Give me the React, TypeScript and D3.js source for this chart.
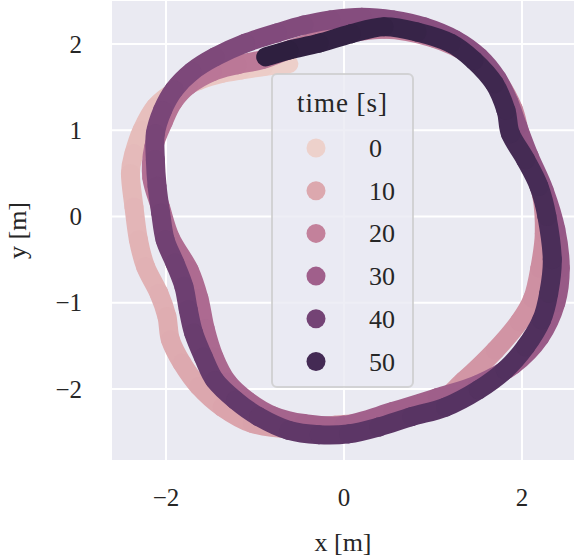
import React from "react";
import * as d3 from "d3";

// time [s] of each sampled position along the trajectory
const timeS = [
  0.0, 0.8, 1.6, 2.2, 2.8, 3.4, 4.0, 4.6, 5.2, 5.7, 6.4, 7.0, 7.5, 8.0, 8.5, 9.0, 9.5, 10.0, 10.6, 11.2,
  11.8, 12.4, 13.0, 13.6, 14.2, 14.8, 15.3, 15.8, 16.3, 16.8, 17.3, 17.8, 18.3, 18.8, 19.3, 19.8, 20.3, 20.8, 21.3, 21.8,
  22.0, 22.4, 22.8, 23.2, 23.6, 24.0, 24.4, 24.8, 25.2, 25.6, 26.0, 26.4, 26.8, 27.2, 27.6, 28.0, 28.4, 28.8, 29.2, 29.6,
  30.0, 30.4, 30.8, 31.2, 31.6, 32.0, 32.4, 32.8, 33.2, 33.6, 34.0, 34.4, 34.8, 35.2, 35.5, 35.8, 36.1, 36.4, 36.7, 37.0,
  37.3, 37.6, 37.9, 38.2, 38.5, 38.8, 39.2, 39.6, 40.0, 40.4, 40.8, 41.2, 41.6, 42.0, 42.4, 42.8, 43.2, 43.6, 44.0, 44.4,
  44.8, 45.2, 45.6, 46.0, 46.4, 46.8, 47.2, 47.6, 48.0, 48.4, 48.8, 49.2, 49.6, 50.0, 50.4, 50.9, 51.4, 51.9, 52.5, 53.1,
  53.7, 54.2, 54.6, 55.0,
];
const posX = [
  -0.62, -0.90, -1.15, -1.37, -1.63, -1.90, -2.12, -2.27, -2.36, -2.40, -2.36, -2.31, -2.23, -2.08, -1.99, -1.95, -1.82, -1.63, -1.37, -1.03,
  -0.60, -0.10, 0.45, 0.98, 1.35, 1.70, 1.97, 2.12, 2.20, 2.25, 2.22, 2.10, 1.98, 1.90, 1.72, 1.45, 1.00, 0.45, -0.15, -0.60,
  -0.92, -1.20, -1.48, -1.75, -1.92, -2.03, -2.14, -2.16, -2.06, -1.95, -1.74, -1.63, -1.56, -1.46, -1.31, -1.08, -0.80, -0.45, 0.00, 0.55,
  1.05, 1.50, 1.90, 2.20, 2.38, 2.43, 2.38, 2.25, 2.08, 1.95, 1.85, 1.72, 1.52, 1.25, 0.90, 0.55, 0.20, -0.15, -0.45, -0.75,
  -1.11, -1.45, -1.71, -1.91, -2.04, -2.12, -2.12, -2.10, -2.06, -2.01, -1.90, -1.80, -1.75, -1.69, -1.58, -1.45, -1.22, -0.96, -0.62, -0.28,
  0.05, 0.39, 0.76, 1.14, 1.51, 1.81, 2.04, 2.22, 2.30, 2.34, 2.28, 2.19, 2.04, 1.87, 1.82, 1.69, 1.46, 1.20, 0.82, 0.45,
  0.08, -0.28, -0.62, -0.88,
];
const posY = [
  1.77, 1.74, 1.70, 1.66, 1.58, 1.45, 1.27, 1.00, 0.73, 0.50, 0.11, -0.27, -0.58, -0.89, -1.16, -1.43, -1.70, -1.97, -2.21, -2.40,
  -2.46, -2.42, -2.36, -2.22, -1.90, -1.55, -1.22, -0.95, -0.60, -0.20, 0.25, 0.60, 0.95, 1.25, 1.58, 1.85, 2.07, 2.17, 2.08, 1.94,
  1.82, 1.76, 1.68, 1.52, 1.33, 1.10, 0.80, 0.45, 0.10, -0.25, -0.62, -0.95, -1.30, -1.63, -1.92, -2.14, -2.31, -2.40, -2.42, -2.26,
  -2.10, -1.95, -1.72, -1.40, -1.00, -0.60, -0.15, 0.30, 0.70, 1.05, 1.33, 1.60, 1.85, 2.05, 2.20, 2.28, 2.31, 2.28, 2.22, 2.13,
  2.01, 1.85, 1.68, 1.47, 1.23, 0.96, 0.66, 0.35, 0.04, -0.27, -0.54, -0.81, -1.08, -1.35, -1.63, -1.90, -2.13, -2.32, -2.48, -2.53,
  -2.52, -2.44, -2.32, -2.21, -2.01, -1.78, -1.51, -1.20, -0.89, -0.50, 0.00, 0.35, 0.66, 0.96, 1.23, 1.54, 1.81, 2.01, 2.14, 2.20,
  2.12, 2.01, 1.93, 1.85,
];

const legendTimes = [0, 10, 20, 30, 40, 50];
const xTicks = [-2, 0, 2];
const yTicks = [-2, -1, 0, 1, 2];

const W = 574;
const H = 559;
const FONT = "'Liberation Serif', 'Times New Roman', serif";

// seaborn default cubehelix (start=0, rot=.4, hue=.8, gamma=1)
function cubehelix(x: number): string {
  const a = (0.8 * x * (1 - x)) / 2;
  const phi = 2 * Math.PI * (0.4 * x);
  const c = Math.cos(phi);
  const s = Math.sin(phi);
  const clip = (v: number) => Math.max(0, Math.min(1, v)) * 255;
  const r = x + a * (-0.14861 * c + 1.78277 * s);
  const g = x + a * (-0.29227 * c - 0.90649 * s);
  const b = x + a * (1.97294 * c);
  return d3.rgb(clip(r), clip(g), clip(b)).formatHex();
}

const fmt = (v: number) => (v < 0 ? "\u2212" + Math.abs(v) : String(v));

export default function App() {
  const left = 112, right = 574, top = 1, bottom = 460;
  const xScale = d3.scaleLinear().domain([-2.607, 2.584]).range([left, right]);
  const yScale = d3.scaleLinear().domain([2.499, -2.823]).range([top, bottom]);
  const tMin = d3.min(timeS) as number;
  const tMax = d3.max(timeS) as number;
  const norm = d3.scaleLinear().domain([tMin, tMax]).range([0.85, 0.15]);
  const color = (t: number) => cubehelix(norm(t));

  const pts = timeS.map((t, i) => ({ t, x: xScale(posX[i]), y: yScale(posY[i]) }));
  const n = pts.length;
  const segs = [];
  for (let i = 0; i < n - 1; i++) {
    const p0 = pts[Math.max(0, i - 1)];
    const p1 = pts[i];
    const p2 = pts[i + 1];
    const p3 = pts[Math.min(n - 1, i + 2)];
    const c1x = p1.x + (p2.x - p0.x) / 6;
    const c1y = p1.y + (p2.y - p0.y) / 6;
    const c2x = p2.x - (p3.x - p1.x) / 6;
    const c2y = p2.y - (p3.y - p1.y) / 6;
    const path = d3.path();
    path.moveTo(p1.x, p1.y);
    path.bezierCurveTo(c1x, c1y, c2x, c2y, p2.x, p2.y);
    segs.push(
      <path
        key={i}
        d={path.toString()}
        fill="none"
        stroke={color((p1.t + p2.t) / 2)}
        strokeWidth={19}
        strokeLinecap="round"
      />
    );
  }

  const legX = 272, legY = 74, legW = 141, legH = 313;
  const rowY0 = 148, rowDy = 42.7;

  return (
    <svg width={W} height={H} style={{ position: "absolute", left: 0, top: 0 }} fontFamily={FONT}>
      <rect x={0} y={0} width={W} height={H} fill="#ffffff" />
      <rect x={left} y={top} width={right - left} height={bottom - top} fill="#eaeaf2" />
      {xTicks.map((v) => (
        <line key={"gx" + v} x1={xScale(v)} x2={xScale(v)} y1={top} y2={bottom} stroke="#ffffff" strokeWidth={2} />
      ))}
      {yTicks.map((v) => (
        <line key={"gy" + v} x1={left} x2={right} y1={yScale(v)} y2={yScale(v)} stroke="#ffffff" strokeWidth={2} />
      ))}
      {segs}
      {xTicks.map((v) => (
        <text key={"tx" + v} x={xScale(v)} y={506} textAnchor="middle" fontSize={25} fill="#262626">
          {fmt(v)}
        </text>
      ))}
      {yTicks.map((v) => (
        <text key={"ty" + v} x={82} y={yScale(v) + 8.5} textAnchor="end" fontSize={25} fill="#262626">
          {fmt(v)}
        </text>
      ))}
      <text x={(left + right) / 2} y={551} textAnchor="middle" fontSize={26} fill="#262626">
        x [m]
      </text>
      <text
        transform={`translate(26, ${(top + bottom) / 2}) rotate(-90)`}
        textAnchor="middle"
        fontSize={26}
        fill="#262626"
      >
        y [m]
      </text>
      <rect
        x={legX}
        y={legY}
        width={legW}
        height={legH}
        rx={5}
        fill="#eaeaf2"
        fillOpacity={0.8}
        stroke="#cccccc"
        strokeOpacity={0.8}
        strokeWidth={2}
      />
      <text x={legX + legW / 2} y={112} textAnchor="middle" fontSize={27} fill="#262626" letterSpacing={1}>
        time [s]
      </text>
      {legendTimes.map((t, i) => (
        <g key={"lg" + t}>
          <circle cx={316} cy={rowY0 + i * rowDy} r={9.5} fill={color(t)} />
          <text x={369} y={rowY0 + i * rowDy + 9} fontSize={26} fill="#262626">
            {t}
          </text>
        </g>
      ))}
    </svg>
  );
}
